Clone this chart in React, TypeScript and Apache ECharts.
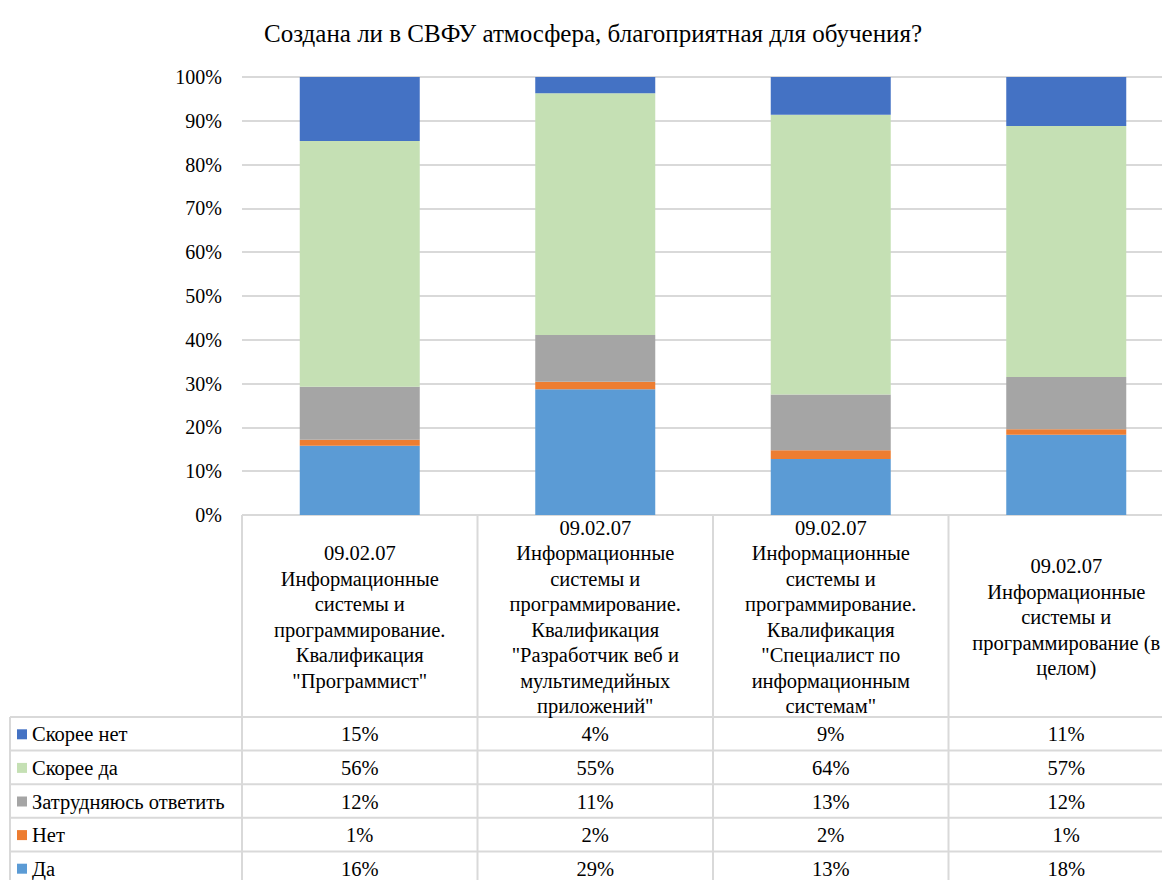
import React, { useEffect, useRef } from "react";
import * as echarts from "echarts";

const title = "Создана ли в СВФУ атмосфера, благоприятная для обучения?";

const categoryLines: string[][] = [
  ["09.02.07", "Информационные", "системы и", "программирование.", "Квалификация", "\"Программист\""],
  ["09.02.07", "Информационные", "системы и", "программирование.", "Квалификация", "\"Разработчик веб и", "мультимедийных", "приложений\""],
  ["09.02.07", "Информационные", "системы и", "программирование.", "Квалификация", "\"Специалист по", "информационным", "системам\""],
  ["09.02.07", "Информационные", "системы и", "программирование (в", "целом)"],
];
const categories = categoryLines.map((l) => l.join(" "));

// stacked bottom -> top
const da = [15.8, 28.7, 12.8, 18.3];
const net = [1.4, 1.7, 2.0, 1.3];
const zatr = [12.1, 10.7, 12.7, 11.9];
const skoreeDa = [56.1, 55.2, 63.9, 57.3];
const skoreeNet = [14.6, 3.7, 8.6, 11.2];

const seriesNames = ["Да", "Нет", "Затрудняюсь ответить", "Скорее да", "Скорее нет"];
const seriesData = [da, net, zatr, skoreeDa, skoreeNet];
const seriesColors = ["#5B9BD5", "#ED7D31", "#A5A5A5", "#C5E0B4", "#4472C4"];

const yTicks = { min: 0, max: 100, interval: 10 };

const FONT = "Liberation Serif";

export default function App() {
  const ref = useRef<HTMLDivElement>(null);
  useEffect(() => {
    if (!ref.current) return;
    const chart = echarts.init(ref.current, null, { renderer: "svg" });

    const gridLeft = 242;
    const gridTop = 77;
    const gridBottomY = 515;
    const colW = 235.5;
    const gridWidth = colW * categories.length;
    const tableLeft = 10;
    const headerBottom = 717;
    const rowH = 33.6;
    const tableBottom = 884;
    const lineColor = "#D9D9D9";
    const rightEdge = gridLeft + gridWidth;
    const tableFont = 20.5;

    const graphics: any[] = [];
    const hline = (x1: number, x2: number, y: number) =>
      graphics.push({ type: "line", shape: { x1, y1: y, x2, y2: y }, style: { stroke: lineColor, lineWidth: 2 } });
    const vline = (x: number, y1: number, y2: number) =>
      graphics.push({ type: "line", shape: { x1: x, y1, x2: x, y2 }, style: { stroke: lineColor, lineWidth: 2 } });

    hline(gridLeft, rightEdge, gridBottomY);
    hline(tableLeft, rightEdge, headerBottom);
    for (let i = 1; i <= 5; i++) hline(tableLeft, rightEdge, headerBottom + rowH * i);
    vline(tableLeft, headerBottom, tableBottom);
    for (let c = 0; c <= categories.length; c++) vline(gridLeft + colW * c, gridBottomY, tableBottom);

    categoryLines.forEach((lines, c) => {
      graphics.push({
        type: "text",
        x: gridLeft + colW * c + colW / 2,
        y: (gridBottomY + headerBottom) / 2 + 1,
        style: {
          text: lines.join("\n"),
          fontFamily: FONT,
          fontSize: tableFont,
          fill: "#000",
          align: "center",
          verticalAlign: "middle",
          lineHeight: 25.5,
        },
      });
    });

    const rowOrder = [4, 3, 2, 1, 0];
    rowOrder.forEach((si, r) => {
      const cy = headerBottom + rowH * r + rowH / 2 + 0.5;
      graphics.push({
        type: "rect",
        shape: { x: 17, y: cy - 5, width: 10, height: 10 },
        style: { fill: seriesColors[si] },
      });
      graphics.push({
        type: "text",
        x: 32,
        y: cy,
        style: { text: seriesNames[si], fontFamily: FONT, fontSize: tableFont, fill: "#000", align: "left", verticalAlign: "middle" },
      });
      seriesData[si].forEach((v, c) => {
        graphics.push({
          type: "text",
          x: gridLeft + colW * c + colW / 2,
          y: cy,
          style: { text: Math.round(v) + "%", fontFamily: FONT, fontSize: tableFont, fill: "#000", align: "center", verticalAlign: "middle" },
        });
      });
    });

    chart.setOption({
      animation: false,
      textStyle: { fontFamily: FONT },
      title: {
        text: title,
        left: 588,
        textAlign: "center",
        top: 16,
        textStyle: { fontFamily: FONT, fontSize: 25, fontWeight: "normal", color: "#000" },
      },
      grid: { left: gridLeft, top: gridTop, width: gridWidth, height: gridBottomY - gridTop, containLabel: false },
      xAxis: {
        type: "category",
        data: categories,
        axisLabel: { show: false },
        axisTick: { show: false },
        axisLine: { show: false },
      },
      yAxis: {
        type: "value",
        min: yTicks.min,
        max: yTicks.max,
        interval: yTicks.interval,
        axisLabel: { formatter: "{value}%", fontFamily: FONT, fontSize: 20, color: "#000", margin: 20 },
        splitLine: { lineStyle: { color: lineColor, width: 2 } },
        axisLine: { show: false },
        axisTick: { show: false },
      },
      series: seriesNames.map((name, i) => ({
        name,
        type: "bar",
        stack: "total",
        data: seriesData[i],
        barWidth: 120,
        itemStyle: { color: seriesColors[i] },
      })),
      graphic: graphics,
    });

    return () => chart.dispose();
  }, []);

  return (
    <div style={{ margin: "-8px 0 0 -8px", width: 1170, height: 880, overflow: "hidden" }}>
      <div ref={ref} style={{ width: 1200, height: 880 }} />
    </div>
  );
}
